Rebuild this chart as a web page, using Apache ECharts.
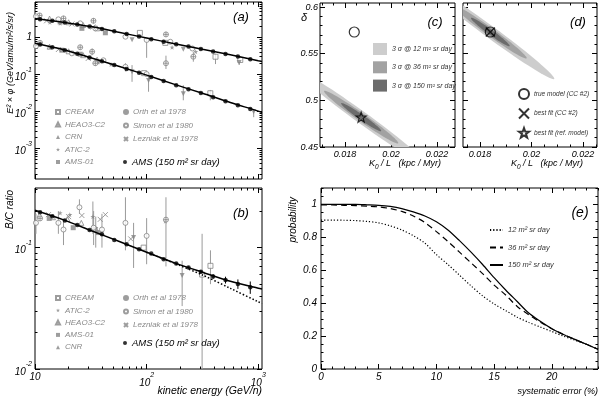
<!DOCTYPE html>
<html>
<head>
<meta charset="utf-8">
<title>AMS B/C projection</title>
<script src="https://cdn.jsdelivr.net/npm/echarts@6.0.0/dist/echarts.min.js"></script>
<style>
  html, body { margin: 0; padding: 0; background: #fff; }
  #chart { width: 600px; height: 398px; }
</style>
</head>
<body>
<div id="chart"></div>
<script>
const FONT = '"Liberation Sans", Arial, sans-serif';
const GREY = '#858585';
const BAR = '#9a9a9a';

// ---- AMS simulated points (GeV/n) ----
const amsE = [11.1, 14.3, 18.5, 23.9, 30.8, 39.8, 51.3, 66.2, 85.5, 110, 142, 184, 237, 306, 394, 509, 657, 848];
const amsC = [3.10, 2.80, 2.52, 2.23, 1.97, 1.69, 1.45, 1.23, 1.05, 0.893, 0.766, 0.656, 0.562, 0.482, 0.413, 0.354, 0.302, 0.256];
const amsB = [0.644, 0.541, 0.451, 0.360, 0.287, 0.226, 0.179, 0.140, 0.110, 0.0853, 0.0661, 0.0512, 0.0400, 0.0313, 0.0242, 0.0187, 0.0147, 0.0116];
const amsBC = [0.196, 0.1815, 0.1675, 0.1535, 0.1396, 0.1288, 0.1156, 0.1066, 0.0970, 0.0893, 0.0803, 0.0740, 0.0687, 0.0633, 0.0579, 0.0541, 0.0502, 0.0471];
const amsBCerr = [0, 0, 0, 0, 0, 0, 0, 0, 0, 0, 0.001, 0.0012, 0.0014, 0.002, 0.0025, 0.0035, 0.0045, 0.0055];

// ---- model curves ----
const modelE = [10, 17.8, 31.6, 56.2, 100, 178, 316, 562, 1000, 1080];
const modelC = [3.24, 2.57, 1.95, 1.38, 0.955, 0.676, 0.479, 0.339, 0.234, 0.224];
const modelB = [0.692, 0.468, 0.282, 0.166, 0.0955, 0.0537, 0.0309, 0.0174, 0.0102, 0.0093];
const modelBC = [0.203, 0.170, 0.1386, 0.1128, 0.0916, 0.0749, 0.0627, 0.0528, 0.0463, 0.0457];
const altE = [100, 178, 316, 562, 1000, 1080];
const altBC = [0.0916, 0.0742, 0.0595, 0.0462, 0.0358, 0.0346];

// ---- other experiments, panel (a): [E, value, low, high] ----
const aCREAM = [[87, 1.32], [147, 0.71], [414, 0.30, 0.19, 0.36], [690, 0.245], [95, 0.108], [372, 0.031, 0.020, 0.038]];
const aHEAO = [[13.5, 3.2], [20, 2.55], [27, 2.15], [36, 1.75], [13.5, 0.56], [20, 0.42], [27, 0.33], [36, 0.25]];
const aCRN = [[74, 0.86], [213, 0.48], [674, 0.21, 0.18, 0.25], [74, 0.118, 0.063, 0.178], [104, 0.068, 0.034, 0.105], [213, 0.03, 0.02, 0.051], [910, 0.0098, 0.007, 0.011]];
const aATIC = [[13.6, 2.55], [16.8, 2.39], [169, 0.54], [275, 0.41], [13.6, 0.54], [22, 0.38], [48, 0.185]];
const aAMS01 = [[16.8, 2.6], [26.3, 1.75], [42.7, 1.33], [17.4, 0.45], [25.4, 0.35], [36, 0.22]];
const aOrth = [[11, 3.9], [18, 3.25], [33.4, 2.8, 2.4, 3.3], [149, 1.2, 1.05, 1.4], [262, 0.30, 0.22, 0.40], [11.1, 0.71], [25.4, 0.54], [32.5, 0.41, 0.33, 0.50], [34.7, 0.2, 0.17, 0.25], [149, 0.2, 0.14, 0.32]];
const aSimon = [[10.2, 3.7], [16.2, 3.06], [25.4, 2.39], [34.7, 1.75], [64.6, 1.04], [100, 0.85, 0.28, 0.95], [163, 0.76], [257, 0.50], [10.2, 0.58], [21.4, 0.37], [41, 0.24], [64.6, 0.16, 0.12, 0.20], [100, 0.102]];
const aLezniak = [[12.7, 2.8], [21.4, 2.29], [33, 1.9], [16.2, 0.47], [30, 0.27]];

// ---- other experiments, panel (b) ----
const bCREAM = [[94, 0.1], [314, 0.06, 0.006, 0.13], [373, 0.0708, 0.05, 0.095]];
const bATIC = [[16.8, 0.193], [20.5, 0.187], [33, 0.18, 0.13, 0.24], [147, 0.165]];
const bHEAO = [[11, 0.186], [14.5, 0.178], [19.5, 0.172], [26, 0.16], [35, 0.143]];
const bAMS01 = [[13.4, 0.174], [22, 0.146], [37, 0.133]];
const bCNR = [[35, 0.141, 0.1, 0.18], [76.4, 0.121, 0.068, 0.16], [208, 0.0588, 0.033, 0.078]];
const bOrth = [[11.1, 0.174], [149, 0.17, 0.07, 0.26]];
const bSimon = [[10.2, 0.16, 0.13, 0.19], [16.2, 0.16, 0.13, 0.2], [18, 0.141, 0.105, 0.17], [25, 0.215, 0.19, 0.25], [33.5, 0.146, 0.105, 0.2], [39.8, 0.141, 0.1, 0.19], [64.6, 0.16, 0.095, 0.26], [100, 0.125, 0.073, 0.175]];
const bLezniak = [[13.2, 0.187], [20, 0.18], [26.3, 0.184], [38.4, 0.171], [42.7, 0.187], [72, 0.118]];

// ---- panels (c),(d): K0/L vs delta ----
const trueModel = [[0.0184, 0.5732]];
const refFitC = [[0.0187, 0.482]];
const bestFitD = [[0.0184, 0.5732]];
// 3 sigma regions: [centre K, centre delta, tip K, tip delta, width/length]
const contC12 = [[0.0187, 0.482, 0.02151, 0.432, 0.075]];
const contC36 = [[0.0187, 0.482, 0.02031, 0.454, 0.09]];
const contC150 = [[0.0187, 0.482, 0.01957, 0.4671, 0.11]];
const contD12 = [[0.0184, 0.5732, 0.02088, 0.5229, 0.075]];
const contD36 = [[0.0184, 0.5732, 0.01981, 0.545, 0.09]];
const contD150 = [[0.0184, 0.5732, 0.01915, 0.5581, 0.11]];

// ---- panel (e) ----
const sysErr = [0, 1, 2, 3, 4, 5, 6, 7, 8, 9, 10, 11, 12, 13, 14, 15, 16, 17, 18, 19, 20, 21, 22, 23, 24];
const prob12 = [0.905, 0.905, 0.904, 0.902, 0.897, 0.888, 0.87, 0.845, 0.81, 0.765, 0.695, 0.635, 0.57, 0.505, 0.445, 0.395, 0.355, 0.315, 0.283, 0.255, 0.228, 0.2, 0.175, 0.15, 0.12];
const prob36 = [0.998, 0.997, 0.995, 0.993, 0.99, 0.985, 0.975, 0.958, 0.93, 0.89, 0.835, 0.775, 0.71, 0.645, 0.58, 0.51, 0.45, 0.38, 0.33, 0.285, 0.245, 0.21, 0.18, 0.15, 0.12];
const prob150 = [1.0, 1.0, 1.0, 1.0, 0.998, 0.995, 0.988, 0.975, 0.955, 0.93, 0.895, 0.845, 0.78, 0.71, 0.635, 0.555, 0.48, 0.41, 0.34, 0.29, 0.245, 0.21, 0.18, 0.15, 0.12];

// ---- markers ----
const STAR = 'path://M0,-10L2.35,-3.24L9.51,-3.09L3.8,1.24L5.88,8.09L0,4L-5.88,8.09L-3.8,1.24L-9.51,-3.09L-2.35,-3.24Z';
const CROSS = 'path://M0,0L10,10M10,0L0,10';
const OPLUS = 'path://M10,5A5,5,0,1,1,0,5A5,5,0,1,1,10,5ZM5,0L5,10M0,5L10,5';

const hollow = { color: '#fff', borderColor: GREY, borderWidth: 1 };
const styles = {
  'CREAM': { symbol: 'rect', itemStyle: hollow },
  'HEAO3-C2': { symbol: 'triangle', itemStyle: hollow },
  'CRN': { symbol: 'triangle', symbolRotate: 180, itemStyle: { color: GREY } },
  'CNR': { symbol: 'triangle', symbolRotate: 180, itemStyle: { color: GREY } },
  'ATIC-2': { symbol: STAR, itemStyle: { color: GREY } },
  'AMS-01': { symbol: 'rect', itemStyle: { color: GREY } },
  'Orth et al 1978': { symbol: OPLUS, itemStyle: hollow },
  'Simon et al 1980': { symbol: 'circle', itemStyle: hollow },
  'Lezniak et al 1978': { symbol: CROSS, itemStyle: { color: GREY, borderColor: GREY, borderWidth: 1 } }
};

function pts(xs, ys) { return xs.map((x, i) => [x, ys[i]]); }

function steps(a, b, s) {
  const v = [];
  for (let t = a; t <= b + s / 1000; t += s) v.push(+t.toFixed(6));
  return v;
}
function logMinor(p0, p1) {
  const v = [];
  for (let p = p0; p <= p1; p++) for (let m = 2; m <= 9; m++) v.push(+(m * Math.pow(10, p)).toPrecision(3));
  return v;
}
function powLabel(v) {
  const n = Math.round(Math.log10(v));
  if (n === 0) return '1';
  if (n === 1) return '10';
  return '{b|10}{s|' + n + '}';
}
const supRich = {
  b: { fontSize: 10, fontStyle: 'italic', fontFamily: FONT, color: '#000', lineHeight: 16, verticalAlign: 'bottom' },
  s: { fontSize: 7, fontStyle: 'italic', fontFamily: FONT, color: '#000', verticalAlign: 'top' }
};

// ---- grids: every panel has a main grid and an overlay grid for minor ticks ----
const rects = [
  { left: 35, top: 2, width: 227, height: 177 },    // (a)
  { left: 35, top: 188, width: 227, height: 181 },  // (b)
  { left: 320, top: 3, width: 135, height: 144 },   // (c)
  { left: 463, top: 3, width: 134, height: 144 },   // (d)
  { left: 321, top: 188, width: 277, height: 181 }  // (e)
];
const grid = [];
rects.forEach(r => {
  grid.push(Object.assign({ show: true, borderColor: '#000', borderWidth: 1, backgroundColor: 'transparent', containLabel: false, outerBoundsMode: 'none' }, r));
  grid.push(Object.assign({ show: false, containLabel: false, outerBoundsMode: 'none' }, r));
});

const xAxes = [], yAxes = [];
function ax(gridIndex, spec, position, ticks, len, labels) {
  const o = {
    gridIndex, type: spec.type, min: spec.min, max: spec.max, position,
    axisLine: { show: false, onZero: false },
    splitLine: { show: false },
    axisTick: { show: true, inside: true, length: len, customValues: ticks, lineStyle: { color: '#000', width: 1 } },
    axisLabel: { show: false },
    axisPointer: { show: false }
  };
  if (spec.type === 'log') o.logBase = 10;
  if (labels) {
    o.axisLabel = Object.assign({
      show: true, customValues: labels, color: '#000', fontSize: 10,
      fontStyle: 'italic', fontFamily: FONT, margin: 3
    }, spec.label || {});
  }
  return o;
}
function panel(g, xs, ys) {
  const xi = xAxes.length, yi = yAxes.length;
  xAxes.push(ax(g, xs, 'bottom', xs.major, 5, xs.labels));
  xAxes.push(ax(g, xs, 'top', xs.major, 5));
  xAxes.push(ax(g + 1, xs, 'bottom', xs.minor, 2.5));
  xAxes.push(ax(g + 1, xs, 'top', xs.minor, 2.5));
  yAxes.push(ax(g, ys, 'left', ys.major, 5, ys.labels));
  yAxes.push(ax(g, ys, 'right', ys.major, 5));
  yAxes.push(ax(g + 1, ys, 'left', ys.minor, 2.5));
  yAxes.push(ax(g + 1, ys, 'right', ys.minor, 2.5));
  return { x: xi, y: yi };
}

const energyAxis = { type: 'log', min: 10, max: 1080, major: [10, 100, 1000], minor: logMinor(1, 2) };
const logLabel = { formatter: powLabel, rich: supRich };

const pA = panel(0, energyAxis, {
  type: 'log', min: 1.5e-4, max: 9, major: [1e-3, 1e-2, 0.1, 1], minor: logMinor(-4, 0),
  labels: [1e-3, 1e-2, 0.1, 1], label: logLabel
});
const pB = panel(2, Object.assign({}, energyAxis, { labels: [10, 100, 1000], label: logLabel }), {
  type: 'log', min: 0.01, max: 0.31, major: [0.01, 0.1], minor: logMinor(-2, -1),
  labels: [0.01, 0.1], label: logLabel
});
const kLabel = { fontSize: 9 };
const pC = panel(4, {
  type: 'value', min: 0.01691, max: 0.02278, major: [0.018, 0.02, 0.022], minor: steps(0.017, 0.0225, 0.0005),
  labels: [0.018, 0.02, 0.022], label: kLabel
}, {
  type: 'value', min: 0.45, max: 0.6043, major: [0.45, 0.5, 0.55, 0.6], minor: steps(0.45, 0.6, 0.01),
  labels: [0.45, 0.5, 0.55, 0.6], label: { fontSize: 9, margin: 2 }
});
const pD = panel(6, {
  type: 'value', min: 0.01734, max: 0.02254, major: [0.018, 0.02, 0.022], minor: steps(0.0175, 0.0225, 0.0005),
  labels: [0.018, 0.02, 0.022], label: kLabel
}, {
  type: 'value', min: 0.45, max: 0.6043, major: [0.45, 0.5, 0.55, 0.6], minor: steps(0.45, 0.6, 0.01)
});
const pE = panel(8, {
  type: 'value', min: 0, max: 24, major: [0, 5, 10, 15, 20], minor: steps(0, 24, 1),
  labels: [0, 5, 10, 15, 20]
}, {
  type: 'value', min: 0, max: 1.1, major: [0, 0.2, 0.4, 0.6, 0.8, 1], minor: steps(0, 1.1, 0.05),
  labels: [0, 0.2, 0.4, 0.6, 0.8, 1], label: { margin: 4 }
});

// ---- series ----
const series = [];
function onPanel(p, s) { return Object.assign({ xAxisIndex: p.x, yAxisIndex: p.y, silent: true, animation: false }, s); }

function errBars(p, groups, color, z) {
  const d = [];
  groups.forEach(g => g.forEach(q => { if (q.length > 3) d.push(q); }));
  series.push(onPanel(p, {
    type: 'custom', clip: true, z, data: d,
    renderItem: (params, api) => {
      const lo = api.coord([api.value(0), api.value(2)]);
      const hi = api.coord([api.value(0), api.value(3)]);
      return { type: 'line', shape: { x1: lo[0], y1: lo[1], x2: hi[0], y2: hi[1] }, style: { stroke: color, lineWidth: 1 } };
    }
  }));
}
function expPoints(p, name, arr) {
  series.push(onPanel(p, Object.assign({
    name, type: 'scatter', symbolSize: 5, z: 3, clip: true, data: arr.map(q => [q[0], q[1]])
  }, styles[name])));
}
function modelLine(p, xs, ys, type) {
  series.push(onPanel(p, {
    type: 'line', data: pts(xs, ys), symbol: 'none', smooth: 0.3, z: 4, clip: true,
    lineStyle: { color: '#000', width: 1.5, type: type || 'solid' }
  }));
}
const AMS = 'AMS (150 m² sr day)';

// (a)
errBars(pA, [aCREAM, aCRN, aOrth, aSimon], BAR, 2);
modelLine(pA, modelE, modelC);
modelLine(pA, modelE, modelB);
expPoints(pA, 'CREAM', aCREAM);
expPoints(pA, 'HEAO3-C2', aHEAO);
expPoints(pA, 'CRN', aCRN);
expPoints(pA, 'ATIC-2', aATIC);
expPoints(pA, 'AMS-01', aAMS01);
expPoints(pA, 'Orth et al 1978', aOrth);
expPoints(pA, 'Simon et al 1980', aSimon);
expPoints(pA, 'Lezniak et al 1978', aLezniak);
series.push(onPanel(pA, {
  name: AMS, type: 'scatter', symbol: 'circle', symbolSize: 4.5, z: 6,
  itemStyle: { color: '#000' }, data: pts(amsE, amsC).concat(pts(amsE, amsB))
}));

// (b)
errBars(pB, [bCREAM, bATIC, bCNR, bOrth, bSimon], BAR, 2);
modelLine(pB, altE, altBC, [1.5, 2]);
modelLine(pB, modelE, modelBC);
expPoints(pB, 'CREAM', bCREAM);
expPoints(pB, 'ATIC-2', bATIC);
expPoints(pB, 'HEAO3-C2', bHEAO);
expPoints(pB, 'AMS-01', bAMS01);
expPoints(pB, 'CNR', bCNR);
expPoints(pB, 'Orth et al 1978', bOrth);
expPoints(pB, 'Simon et al 1980', bSimon);
expPoints(pB, 'Lezniak et al 1978', bLezniak);
errBars(pB, [amsE.map((e, i) => [e, amsBC[i], amsBC[i] - amsBCerr[i], amsBC[i] + amsBCerr[i]]).filter((q, i) => amsBCerr[i] > 0)], '#000', 5);
series.push(onPanel(pB, {
  name: AMS, type: 'scatter', symbol: 'circle', symbolSize: 4.5, z: 6,
  itemStyle: { color: '#000' }, data: pts(amsE, amsBC)
}));

// (c), (d)
function ellipseItem(params, api) {
  const c = api.coord([api.value(0), api.value(1)]);
  const t = api.coord([api.value(2), api.value(3)]);
  const ux = t[0] - c[0], uy = t[1] - c[1], r = api.value(4);
  const points = [];
  for (let i = 0; i < 72; i++) {
    const a = (i / 72) * Math.PI * 2;
    points.push([c[0] + Math.cos(a) * ux - Math.sin(a) * uy * r, c[1] + Math.cos(a) * uy + Math.sin(a) * ux * r]);
  }
  return { type: 'polygon', shape: { points }, style: { fill: api.visual('color') } };
}
const C12 = '3 σ @ 12 m² sr day', C36 = '3 σ @ 36 m² sr day', C150 = '3 σ @ 150 m² sr day';
[[pC, contC12, contC36, contC150], [pD, contD12, contD36, contD150]].forEach(([p, a, b, c]) => {
  series.push(onPanel(p, { name: C12, type: 'custom', clip: true, z: 1, itemStyle: { color: '#cdcdcd' }, data: a, renderItem: ellipseItem }));
  series.push(onPanel(p, { name: C36, type: 'custom', clip: true, z: 1, itemStyle: { color: '#a2a2a2' }, data: b, renderItem: ellipseItem }));
  series.push(onPanel(p, { name: C150, type: 'custom', clip: true, z: 1, itemStyle: { color: '#6c6c6c' }, data: c, renderItem: ellipseItem }));
});
const blackHollow = { color: 'transparent', borderColor: '#000', borderWidth: 1.2 };
series.push(onPanel(pC, { name: 'true model (CC #2)', type: 'scatter', symbol: 'circle', symbolSize: 10, z: 5, itemStyle: blackHollow, data: trueModel }));
series.push(onPanel(pD, { name: 'true model (CC #2)', type: 'scatter', symbol: 'circle', symbolSize: 10, z: 5, itemStyle: blackHollow, data: trueModel }));
series.push(onPanel(pD, { name: 'best fit (CC #2)', type: 'scatter', symbol: CROSS, symbolSize: 9, z: 6, itemStyle: { color: '#000', borderColor: '#000', borderWidth: 1.5 }, data: bestFitD }));
series.push(onPanel(pC, { name: 'best fit (ref. model)', type: 'scatter', symbol: STAR, symbolSize: 10, z: 6, itemStyle: blackHollow, data: refFitC }));

// (e)
[['12 m² sr day', prob12, [1.2, 2]], ['36 m² sr day', prob36, [6, 4]], ['150 m² sr day', prob150, 'solid']].forEach(([n, ys, t]) => {
  series.push(onPanel(pE, {
    name: n, type: 'line', data: pts(sysErr, ys), symbol: 'none', smooth: 0.3, z: 3,
    itemStyle: { color: '#000' },
    lineStyle: { color: '#000', width: 1.2, type: t }
  }));
});

// ---- legends ----
const greyText = { color: '#8a8a8a', fontSize: 8, fontStyle: 'italic', fontFamily: FONT };
const amsText = { color: '#000', fontSize: 9.5, fontStyle: 'italic', fontFamily: FONT };
const lg = (o) => Object.assign({ orient: 'vertical', padding: 0, selectedMode: false, itemWidth: 4, itemHeight: 4, textStyle: greyText }, o);
const legend = [
  lg({ left: 55, top: 108, itemGap: 4.5, data: ['CREAM', 'HEAO3-C2', 'CRN', 'ATIC-2', 'AMS-01'] }),
  lg({ left: 123, top: 108, itemGap: 5.5, data: ['Orth et al 1978', 'Simon et al 1980', 'Lezniak et al 1978'] }),
  lg({ left: 123, top: 157, data: [AMS], textStyle: amsText }),
  lg({ left: 55, top: 294, itemGap: 4.3, data: ['CREAM', 'ATIC-2', 'HEAO3-C2', 'AMS-01', 'CNR'] }),
  lg({ left: 123, top: 294, itemGap: 5.5, data: ['Orth et al 1978', 'Simon et al 1980', 'Lezniak et al 1978'] }),
  lg({ left: 123, top: 338, data: [AMS], textStyle: amsText }),
  lg({ left: 373, top: 43, icon: 'rect', itemWidth: 14, itemHeight: 12, itemGap: 6.3, data: [C12, C36, C150],
       textStyle: { color: '#333', fontSize: 7, fontStyle: 'italic', fontFamily: FONT } }),
  lg({ left: 518, top: 88, itemWidth: 10, itemHeight: 10, itemGap: 7.5,
       data: ['true model (CC #2)', 'best fit (CC #2)', 'best fit (ref. model)'],
       textStyle: { color: '#333', fontSize: 6.5, fontStyle: 'italic', fontFamily: FONT } }),
  lg({ left: 489, top: 226, itemWidth: 13, itemHeight: 8, itemGap: 9.5,
       itemStyle: { opacity: 0 },
       data: ['12 m² sr day', '36 m² sr day', '150 m² sr day'],
       textStyle: { color: '#333', fontSize: 7.5, fontStyle: 'italic', fontFamily: FONT } })
];

// ---- titles ----
function txt(x, y, text, size, extra) {
  return Object.assign({
    type: 'text', x, y, silent: true,
    style: Object.assign({ text, fontSize: size, fontStyle: 'italic', fontFamily: FONT, fill: '#000', align: 'center', verticalAlign: 'middle' }, extra || {})
  });
}
function vtxt(x, y, text, size) {
  const t = txt(x, y, text, size, { align: 'right' });
  t.rotation = Math.PI / 2;
  return t;
}
const kRich = {
  k: { fontSize: 9, fontStyle: 'italic', fontFamily: FONT, lineHeight: 12, verticalAlign: 'top' },
  sub: { fontSize: 6.5, fontStyle: 'italic', fontFamily: FONT, verticalAlign: 'bottom' }
};
const graphic = [
  txt(241, 17, '(a)', 13),
  txt(241, 213, '(b)', 13),
  txt(435, 22, '(c)', 13),
  txt(578, 22, '(d)', 13),
  txt(580, 213, '(e)', 14),
  vtxt(10, 12, 'E² × φ (GeV/amu/m²/s/sr)', 9),
  vtxt(10, 190, 'B/C ratio', 10),
  vtxt(293, 197, 'probability', 10),
  txt(304, 18, 'δ', 11),
  txt(262, 391, 'kinetic energy (GeV/n)', 10.5, { align: 'right' }),
  txt(598, 391, 'systematic error (%)', 9, { align: 'right' }),
  txt(441, 165, '{k|K}{sub|0}{k| / L   (kpc / Myr)}', 9, { align: 'right', rich: kRich }),
  txt(583, 165, '{k|K}{sub|0}{k| / L   (kpc / Myr)}', 9, { align: 'right', rich: kRich })
];

const chart = echarts.init(document.getElementById('chart'));
chart.setOption({
  animation: false,
  grid,
  xAxis: xAxes,
  yAxis: yAxes,
  legend,
  graphic,
  series
});
</script>
</body>
</html>
